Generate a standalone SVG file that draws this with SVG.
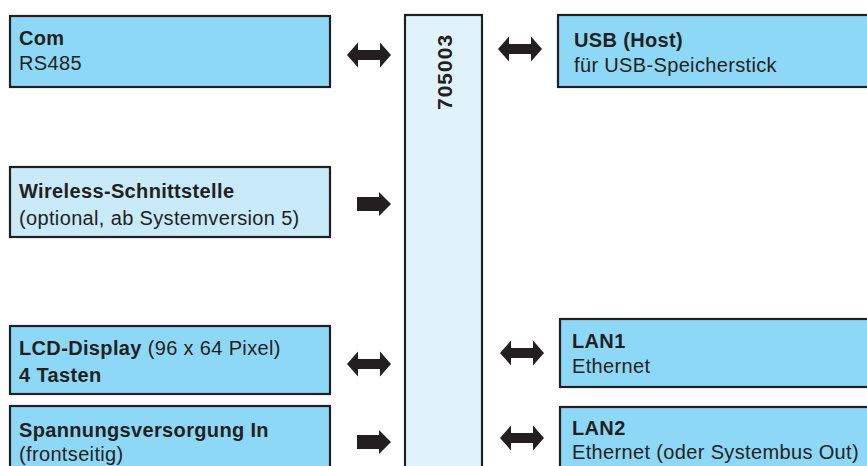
<svg xmlns="http://www.w3.org/2000/svg" width="867" height="466" viewBox="0 0 867 466">
<defs>
<style>
.box{fill:#8dd8f6;stroke:#231f20;stroke-width:2.2}
.light{fill:#c8eaf9;stroke:#231f20;stroke-width:2.2}
.core{fill:#e0f3fb;stroke:#231f20;stroke-width:2.2}
text{font-family:"Liberation Sans",Arial,sans-serif;font-size:20px;letter-spacing:0.35px;fill:#231f20}
.b{font-weight:bold}
.num{font-size:21px;letter-spacing:1px}
.arr{fill:#231f20}
</style>
<path id="dbl" d="M0,0 L11,-12.5 L11,-5 L33,-5 L33,-12.5 L44,0 L33,12.5 L33,5 L11,5 L11,12.5 Z"/>
<path id="one" d="M0,-7 L22,-7 L22,-12 L34,0 L22,12 L22,7 L0,7 Z"/>
</defs>
<rect width="867" height="466" fill="#ffffff"/>

<g id="core">
<rect class="core" x="405" y="15" width="77" height="470"/>
<text class="b num" transform="translate(452,110) rotate(-90)">705003</text>
</g>

<g id="com">
<rect class="box" x="10" y="16" width="320" height="71"/>
<text x="19" y="45" class="b">Com</text>
<text x="19" y="70">RS485</text>
</g>

<g id="usb">
<rect class="box" x="558" y="15" width="320" height="72"/>
<text x="574" y="47" class="b">USB (Host)</text>
<text x="574" y="72">für USB-Speicherstick</text>
</g>

<g id="wireless">
<rect class="light" x="10" y="167" width="320" height="70"/>
<text x="19" y="198" class="b">Wireless-Schnittstelle</text>
<text x="19" y="225">(optional, ab Systemversion 5)</text>
</g>

<g id="lcd">
<rect class="box" x="10" y="326" width="320" height="68"/>
<text x="19" y="355"><tspan class="b">LCD-Display</tspan> (96 x 64 Pixel)</text>
<text x="19" y="382" class="b">4 Tasten</text>
</g>

<g id="power">
<rect class="box" x="10" y="406" width="320" height="80"/>
<text x="19" y="437" class="b">Spannungsversorgung In</text>
<text x="19" y="461">(frontseitig)</text>
</g>

<g id="lan1">
<rect class="box" x="560" y="319" width="320" height="68"/>
<text x="572" y="348" class="b">LAN1</text>
<text x="572" y="373">Ethernet</text>
</g>

<g id="lan2">
<rect class="box" x="560" y="407" width="320" height="80"/>
<text x="572" y="435" class="b">LAN2</text>
<text x="572" y="459">Ethernet (oder Systembus Out)</text>
</g>

<g id="connectors" class="arr">
<use href="#dbl" x="347" y="55"/>
<use href="#dbl" x="498" y="49"/>
<use href="#one" x="357" y="204"/>
<use href="#dbl" x="347" y="364"/>
<use href="#one" x="357" y="442"/>
<use href="#dbl" x="500" y="353"/>
<use href="#dbl" x="500" y="438"/>
</g>
</svg>
